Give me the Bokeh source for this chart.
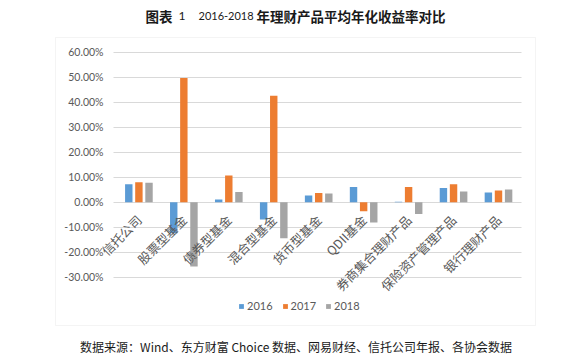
import math
from bokeh.plotting import figure
from bokeh.models import (ColumnDataSource, Range1d, FixedTicker,
                          NumeralTickFormatter, Label, BoxAnnotation, Legend, LegendItem)
from bokeh.transform import dodge
from bokeh.core.properties import value
from bokeh.embed import file_html
from bokeh.resources import INLINE

categories = ["信托公司", "股票型基金", "债券型基金", "混合型基金", "货币型基金",
              "QDII基金", "券商集合理财产品", "保险资产管理产品", "银行理财产品"]
r2016 = [0.072, -0.124, 0.011, -0.069, 0.027, 0.061, 0.002, 0.057, 0.039]
r2017 = [0.080, 0.497, 0.107, 0.426, 0.037, -0.036, 0.061, 0.072, 0.047]
r2018 = [0.078, -0.256, 0.041, -0.144, 0.035, -0.081, -0.047, 0.043, 0.051]
years = ["2016", "2017", "2018"]
colors = ["#5B9BD5", "#ED7D31", "#A5A5A5"]
y_ticks = [-0.3, -0.2, -0.1, 0.0, 0.1, 0.2, 0.3, 0.4, 0.5, 0.6]

title_parts = ["图表", "1", "2016-2018", "年理财产品平均年化收益率对比"]
source_text = "数据来源：Wind、东方财富 Choice 数据、网易财经、信托公司年报、各协会数据"

W, H = 562, 358
FL = 54          # frame left (canvas px); frame spans to right and full height
PX_PER_CAT = 44.95
CAT0 = 138.4     # canvas x of first category centre
PX_PER_UNIT = 250.3
Y0 = 201.8       # canvas y of 0%

x_start = -(CAT0 - FL) / PX_PER_CAT
x_end = x_start + (W - FL) / PX_PER_CAT
y_top = Y0 / PX_PER_UNIT
y_bot = -(H - Y0) / PX_PER_UNIT

src = ColumnDataSource(dict(cat=categories, idx=list(range(len(categories))),
                            y2016=r2016, y2017=r2017, y2018=r2018))

p = figure(width=W, height=H, output_backend="svg", toolbar_location=None,
           x_range=Range1d(x_start, x_end), y_range=Range1d(y_bot, y_top),
           x_axis_location=None, y_axis_location="left",
           min_border_left=FL, min_border_right=0, min_border_top=0, min_border_bottom=0)
p.background_fill_color = "white"
p.border_fill_color = "white"
p.outline_line_color = None

# horizontal gridlines limited to the plot area
p.xgrid.grid_line_color = None
p.ygrid.ticker = FixedTicker(ticks=y_ticks)
p.ygrid.grid_line_color = "#D9D9D9"
p.ygrid.grid_line_width = 1
p.ygrid.cross_bounds = (-0.56, 8.505)

renderers = []
offsets = [-0.225, 0.0, 0.225]
for yr, col, off in zip(years, colors, offsets):
    r = p.vbar(x=dodge("idx", off), top="y" + yr, width=0.165,
               source=src, fill_color=col, line_color=None)
    renderers.append(r)

# category labels, rotated
p.text(x="idx", y=-0.06, text="cat", source=src,
       angle=math.pi / 4, text_align="right", text_baseline="middle",
       text_font=value("Noto Sans CJK SC"), text_font_size="12.5px", text_color="#595959")

yax = p.yaxis[0]
yax.ticker = FixedTicker(ticks=y_ticks)
yax.formatter = NumeralTickFormatter(format="0.00%")
yax.axis_line_color = None
yax.major_tick_line_color = None
yax.minor_tick_line_color = None
yax.major_tick_out = 0
yax.major_tick_in = 0
yax.major_label_standoff = -49
yax.major_label_text_font = "Lato"
yax.major_label_text_font_size = "10.5px"
yax.major_label_text_color = "#595959"

legend = Legend(items=[LegendItem(label=y, renderers=[r]) for y, r in zip(years, renderers)],
                orientation="horizontal", location=(238 - FL, H - 312))
legend.glyph_width = 6
legend.glyph_height = 6
legend.label_standoff = 3
legend.spacing = 9
legend.padding = 0
legend.margin = 0
legend.label_height = 12
legend.label_text_font = "Lato"
legend.label_text_font_size = "11px"
legend.label_text_color = "#595959"
legend.background_fill_alpha = 0
legend.border_line_color = None
p.add_layout(legend)

box = BoxAnnotation(left=55 - FL, right=535 - FL, top=H - 37, bottom=H - 325,
                    left_units="screen", right_units="screen", top_units="screen", bottom_units="screen",
                    fill_color=None, fill_alpha=0, line_color="#D9D9D9", line_width=1)
p.add_layout(box)

ty = H - 15
tx = [145, 178, 198, 256]
tfonts = ["Noto Sans CJK SC", "Lato", "Lato", "Noto Sans CJK SC"]
tsizes = ["13.5px", "12px", "11px", "13.5px"]
tstyles = ["bold", "normal", "normal", "bold"]
for t, x, f, s, st in zip(title_parts, tx, tfonts, tsizes, tstyles):
    p.add_layout(Label(x=x - FL, y=ty, x_units="screen", y_units="screen", text=t,
                       text_font=f, text_font_size=s, text_font_style=st,
                       text_color="#1A1A1A", text_align="left", text_baseline="middle"))

p.add_layout(Label(x=295.6 - FL, y=H - 346, x_units="screen", y_units="screen", text=source_text,
                   text_font="Noto Sans CJK SC", text_font_size="12px", text_color="#1A1A1A",
                   text_align="center", text_baseline="middle"))

open("out.html", "w").write(file_html(p, INLINE))
